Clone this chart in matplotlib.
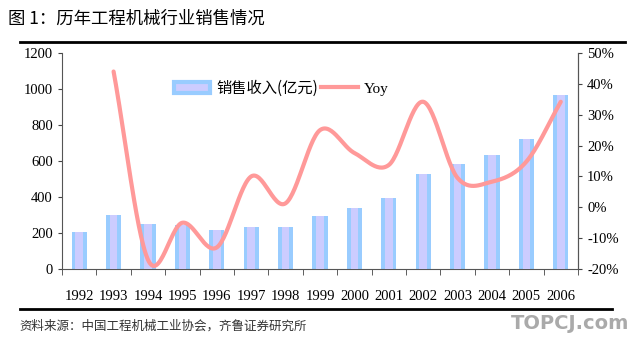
import numpy as np
import matplotlib.pyplot as plt
from matplotlib.patches import Patch
from matplotlib.lines import Line2D

plt.rcParams['font.family'] = ['Liberation Serif', 'Noto Sans CJK SC']

years = ['1992', '1993', '1994', '1995', '1996', '1997', '1998', '1999',
         '2000', '2001', '2002', '2003', '2004', '2005', '2006']
sales = [208, 300, 250, 245, 215, 232, 232, 294, 337, 392, 527, 581, 631, 722, 966]
yoy_years = years[1:]
yoy = [44, -17, -5, -13, 10, 1.3, 25, 17.6, 13.7, 34.2, 9.5, 8.3, 14.8, 34.2]

blue = '#99CCFF'
lavender = '#CCCCFF'
pink = '#FF9999'


def catmull_rom(x, y, n=30):
    # smooth curve through the points, like Excel's smoothed line
    x = np.asarray(x, float)
    y = np.asarray(y, float)
    px = np.concatenate([[2 * x[0] - x[1]], x, [2 * x[-1] - x[-2]]])
    py = np.concatenate([[2 * y[0] - y[1]], y, [2 * y[-1] - y[-2]]])
    xs, ys = [], []
    for i in range(1, len(px) - 2):
        t = np.linspace(0, 1, n, endpoint=False)
        for arr, out in ((px, xs), (py, ys)):
            p0, p1, p2, p3 = arr[i - 1], arr[i], arr[i + 1], arr[i + 2]
            out.extend(0.5 * (2 * p1 + (-p0 + p2) * t
                              + (2 * p0 - 5 * p1 + 4 * p2 - p3) * t ** 2
                              + (-p0 + 3 * p1 - 3 * p2 + p3) * t ** 3))
    xs.append(x[-1])
    ys.append(y[-1])
    return np.array(xs), np.array(ys)


fig = plt.figure(figsize=(6.39, 3.43), dpi=100)
ax = fig.add_axes([0.097, 0.2157, 0.8075, 0.6298])
ax2 = ax.twinx()

x = np.arange(len(years))
ax.bar(x, sales, width=0.44, color=blue, zorder=2)
ax.bar(x, sales, width=0.22, color=lavender, zorder=3)
ax.set_xlim(-0.5, len(years) - 0.5)
ax.set_ylim(0, 1200)
ax.set_yticks(range(0, 1201, 200))
ax.set_xticks(x)
ax.set_xticklabels(years, fontsize=10.5)
ax.set_xticks(np.arange(-0.5, len(years), 1), minor=True)
ax.tick_params(axis='x', which='major', length=0, pad=15)
ax.tick_params(axis='x', which='minor', length=4, direction='out', color='#444444')
ax.tick_params(axis='y', labelsize=10.5, length=3, color='#444444')

xi = np.arange(1, len(years))
sx, sy = catmull_rom(xi, yoy)
ax2.plot(sx, sy, color=pink, lw=3, solid_capstyle='round', zorder=4)
ax2.set_ylim(-20, 50)
ax2.set_yticks(range(-20, 51, 10))
ax2.set_yticklabels([f'{v}%' for v in range(-20, 51, 10)])
ax2.tick_params(axis='y', labelsize=10.5, length=3, color='#444444')

for a in (ax, ax2):
    a.spines['top'].set_visible(False)
    for s in ('left', 'right', 'bottom'):
        a.spines[s].set_color('#555555')
ax2.spines['left'].set_visible(False)
ax2.spines['bottom'].set_visible(False)

handles = [Patch(facecolor=lavender, edgecolor=blue, linewidth=3),
           Line2D([], [], color=pink, lw=3)]
leg = ax.legend(handles, ['销售收入(亿元)', 'Yoy'], loc='upper left',
                bbox_to_anchor=(0.19, 0.94), ncol=2, frameon=False,
                fontsize=11, handlelength=2.4, columnspacing=0.2,
                handletextpad=0.4)
leg.texts[0].set_family(['Noto Sans CJK SC'])

fig.text(0.013, 0.945, '图 1：历年工程机械行业销售情况', fontsize=12.5,
         family=['Noto Sans CJK SC'], va='center', ha='left')
fig.add_artist(Line2D([0.031, 0.978], [0.877, 0.877], color='black', lw=2))
fig.add_artist(Line2D([0.031, 0.958], [0.099, 0.099], color='black', lw=2))
fig.text(0.031, 0.03, '资料来源：中国工程机械工业协会，齐鲁证券研究所', fontsize=9,
         family=['Noto Sans CJK SC'], color='#333333', va='bottom', ha='left')
fig.text(0.985, 0.03, 'TOPCJ.com', fontsize=14, fontweight='bold',
         family=['DejaVu Sans'], color='#aaaaaa', va='bottom', ha='right')

fig.savefig('out.png', dpi=100)
